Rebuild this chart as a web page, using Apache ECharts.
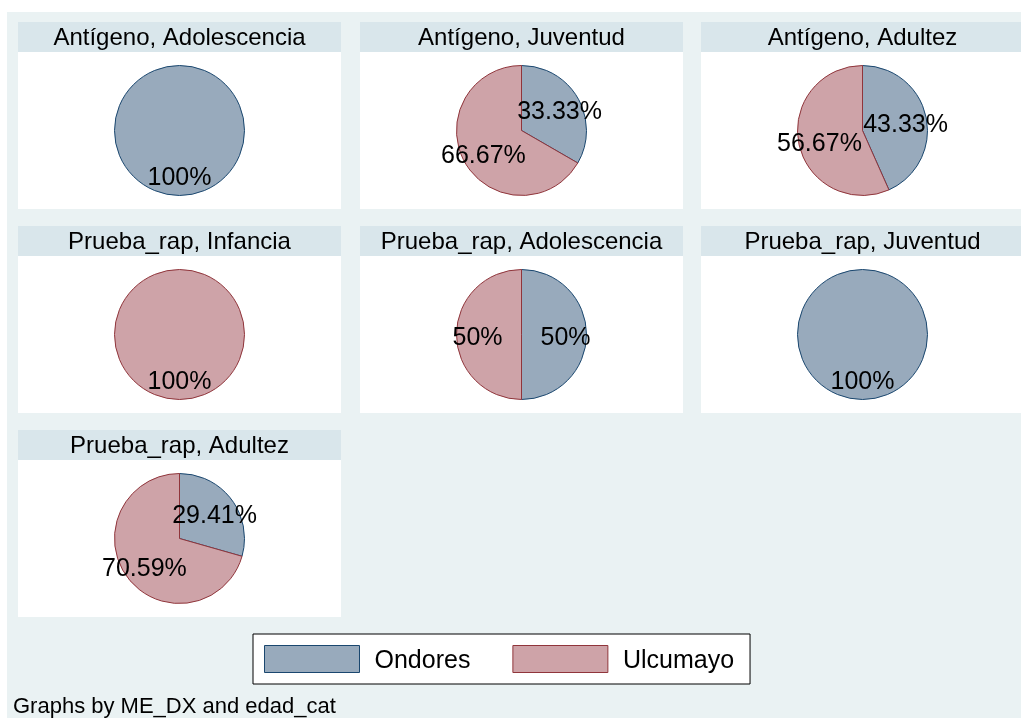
<!DOCTYPE html>
<html>
<head>
<meta charset="utf-8">
<script src="https://cdn.jsdelivr.net/npm/echarts@6/dist/echarts.min.js"></script>
<style>
  html, body { margin: 0; padding: 0; background: #ffffff; }
  #chart { width: 1021px; height: 718px; }
</style>
</head>
<body>
<div id="chart"></div>
<script>
// groups (legend) and panel titles
const groups = ['Ondores', 'Ulcumayo'];
const panelTitles = [
  'Antígeno, Adolescencia', 'Antígeno, Juventud', 'Antígeno, Adultez',
  'Prueba_rap, Infancia', 'Prueba_rap, Adolescencia', 'Prueba_rap, Juventud',
  'Prueba_rap, Adultez'
];
// counts per panel
const ondores = [3, 5, 13, 0, 1, 2, 5];
const ulcumayo = [0, 10, 17, 2, 1, 0, 12];
const footnote = 'Graphs by ME_DX and edad_cat';

const fills = { Ondores: '#98aabc', Ulcumayo: '#cea3a8' };
const strokes = { Ondores: '#1a476f', Ulcumayo: '#90353b' };

// layout
const colX = [18, 360, 701];
const rowY = [22, 226, 430];
const panelW = 323;
const panelH = 187;
const barH = 30;
const R = 65;
const labelR = 41;
const font = 'Liberation Sans, Arial, Helvetica, sans-serif';

const chart = echarts.init(document.getElementById('chart'));

const graphics = [
  { type: 'rect', shape: { x: 7, y: 12, width: 1014, height: 706 }, style: { fill: '#eaf2f3' }, silent: true }
];
const titles = [];
const series = [];

panelTitles.forEach((name, i) => {
  const col = i % 3;
  const row = Math.floor(i / 3);
  const x = colX[col];
  const y = rowY[row];
  const cx = x + panelW / 2;
  const cy = y + barH + (panelH - barH) / 2;

  graphics.push(
    { type: 'rect', shape: { x: x, y: y, width: panelW, height: panelH }, style: { fill: '#ffffff' }, silent: true },
    { type: 'rect', shape: { x: x, y: y, width: panelW, height: barH }, style: { fill: '#d9e6eb' }, silent: true }
  );

  titles.push({
    text: name,
    left: cx,
    top: y + barH / 2 + 1,
    textAlign: 'center',
    textVerticalAlign: 'middle',
    padding: 0,
    textStyle: { fontFamily: font, fontSize: 24, fontWeight: 'normal', color: '#000' }
  });

  const values = [ondores[i], ulcumayo[i]];
  const data = groups
    .map((g, k) => ({
      name: g,
      value: values[k],
      itemStyle: { color: fills[g], borderColor: strokes[g], borderWidth: 1 }
    }))
    .filter(d => d.value > 0);

  // slices
  series.push({
    type: 'pie',
    center: [cx, cy],
    radius: [0, R],
    startAngle: 90,
    clockwise: true,
    animation: false,
    silent: true,
    label: { show: false },
    labelLine: { show: false },
    emphasis: { disabled: true },
    data: data
  });

  // percent labels, placed further out than the default inside position
  series.push({
    type: 'pie',
    center: [cx, cy],
    radius: [2 * labelR - R, R],
    startAngle: 90,
    clockwise: true,
    animation: false,
    silent: true,
    legendHoverLink: false,
    itemStyle: { color: 'transparent', borderWidth: 0 },
    label: {
      show: true,
      position: 'inside',
      fontFamily: font,
      fontSize: 25,
      color: '#000',
      formatter: p => p.percent + '%'
    },
    labelLayout: { dy: 4 },
    labelLine: { show: false },
    emphasis: { disabled: true },
    data: data.map(d => ({ name: d.name, value: d.value, itemStyle: { color: 'transparent', borderWidth: 0 } }))
  });
});

titles.push({
  text: footnote,
  left: 13,
  top: 707,
  textVerticalAlign: 'middle',
  padding: 0,
  textStyle: { fontFamily: font, fontSize: 22, fontWeight: 'normal', color: '#000' }
});

chart.setOption({
  animation: false,
  backgroundColor: '#ffffff',
  graphic: graphics,
  title: titles,
  legend: {
    left: 253,
    top: 634,
    orient: 'horizontal',
    backgroundColor: '#ffffff',
    borderColor: '#000000',
    borderWidth: 1,
    borderRadius: 0,
    padding: [11, 16, 10, 11],
    itemWidth: 95,
    itemHeight: 27,
    itemGap: 42,
    selectedMode: false,
    icon: 'rect',
    formatter: '{a|{name}}',
    textStyle: {
      fontFamily: font, fontSize: 25, color: '#000',
      rich: { a: { fontFamily: font, fontSize: 25, color: '#000', padding: [5, 0, 0, 10] } }
    },
    data: groups.map(g => ({
      name: g,
      itemStyle: { color: fills[g], borderColor: strokes[g], borderWidth: 1 }
    }))
  },
  series: series
});
</script>
</body>
</html>
